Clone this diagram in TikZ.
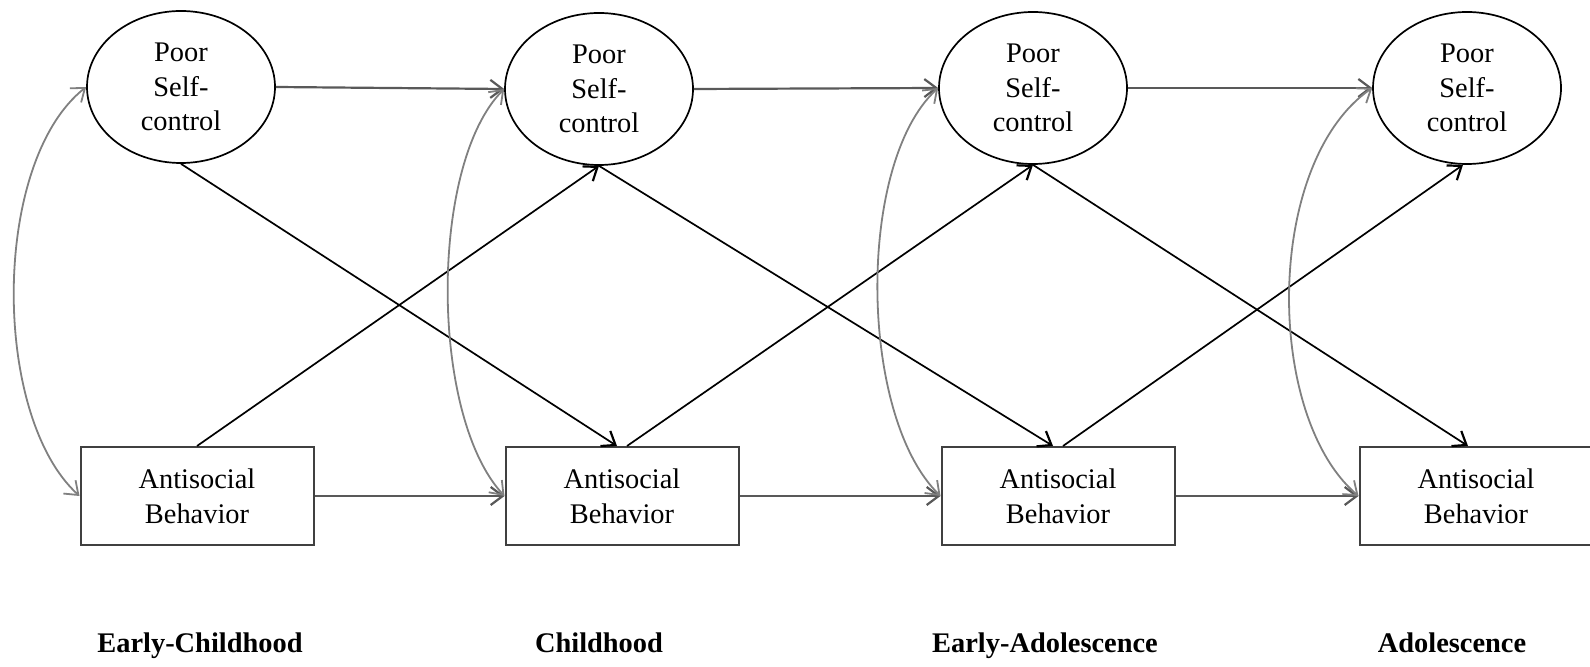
\documentclass[tikz,border=0pt]{standalone}
\usepackage{fontspec}
\setmainfont{Liberation Serif}
\usetikzlibrary{arrows.meta,shapes.geometric}

\begin{document}
\begin{tikzpicture}[x=0.5pt,y=-0.5pt,
  txt/.style={font=\fontsize{14.2}{17.4}\selectfont},
  latent/.style={txt, ellipse, draw=black, line width=0.85pt,
    minimum width=94pt, minimum height=76pt, inner sep=0pt, align=center},
  observed/.style={txt, rectangle, draw=black!75, line width=1pt,
    minimum width=116.5pt, minimum height=49pt, inner sep=0pt, align=center},
  period/.style={font=\fontsize{14.2}{16.3}\selectfont\bfseries, anchor=base},
  tip/.style={-{Straight Barb[length=6pt,width=9pt,line width=1.1pt]}},
  lagged/.style={tip, draw=black!65, line width=1.1pt},
  cross/.style={tip, draw=black, line width=0.85pt},
  covar/.style={{Straight Barb[length=6pt,width=9pt,line width=0.9pt]}-{Straight Barb[length=6pt,width=9pt,line width=0.9pt]},
    draw=black!50, line width=0.9pt}]

\useasboundingbox (0,0) rectangle (1590,667);

% latent poor self-control at each period
\node[latent] (e1) at (181,87)  {Poor\\Self-\\control};
\node[latent] (e2) at (599,89)  {Poor\\Self-\\control};
\node[latent] (e3) at (1033,88) {Poor\\Self-\\control};
\node[latent] (e4) at (1467,88) {Poor\\Self-\\control};

% observed antisocial behavior at each period
\node[observed] (r1) at (197,496)  {Antisocial\\Behavior};
\node[observed] (r2) at (622,496)  {Antisocial\\Behavior};
\node[observed] (r3) at (1058,496) {Antisocial\\Behavior};
\node[observed] (r4) at (1476,496) {Antisocial\\Behavior};

% period labels, on a common baseline
\node[period] (p1) at (200,653)  {Early-Childhood};
\node[period] (p2) at (599,653)  {Childhood};
\node[period] (p3) at (1045,653) {Early-Adolescence};
\node[period] (p4) at (1452,653) {Adolescence};

% autoregressive paths
\draw[lagged] (e1.east) -- (e2.west);
\draw[lagged] (e2.east) -- (e3.west);
\draw[lagged] (e3.east) -- (e4.west);
\draw[lagged] (r1.east) -- (r2.west);
\draw[lagged] (r2.east) -- (r3.west);
\draw[lagged] (r3.east) -- (r4.west);

% cross-lagged paths
\draw[cross] (e1.south) -- ([xshift=-2.5pt]r2.north);
\draw[cross] (e2.south) -- ([xshift=-2.5pt]r3.north);
\draw[cross] (e3.south) -- ([xshift=-4pt]r4.north);
\draw[cross] (r1.north) -- (e2.south);
\draw[cross] ([xshift=2.5pt]r2.north) -- (e3.south);
\draw[cross] ([xshift=2.5pt]r3.north) -- ([xshift=-2pt]e4.south);

% within-period covariances
\draw[covar] (e1.west) .. controls +(-95,75) and +(-88,-80) .. (r1.west);
\draw[covar] (e2.west) .. controls +(-75,75) and +(-75,-80) .. (r2.west);
\draw[covar] (e3.west) .. controls +(-82,75) and +(-82,-80) .. (r3.west);
\draw[covar] (e4.west) .. controls +(-108,75) and +(-94,-80) .. (r4.west);
\end{tikzpicture}
\end{document}
